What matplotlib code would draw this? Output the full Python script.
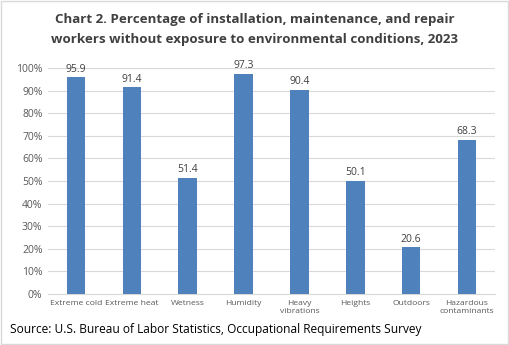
import numpy as np
import matplotlib
matplotlib.use("Agg")
import matplotlib.pyplot as plt
from matplotlib.patches import Rectangle

categories = ["Extreme cold", "Extreme heat", "Wetness", "Humidity", "Heavy\nvibrations",
              "Heights", "Outdoors", "Hazardous\ncontaminants"]
values = [95.9, 91.4, 51.4, 97.3, 90.4, 50.1, 20.6, 68.3]
yticks = [0, 10, 20, 30, 40, 50, 60, 70, 80, 90, 100]

plt.rcParams['font.family'] = ['Open Sans', 'DejaVu Sans']

W, H = 509, 345
fig = plt.figure(figsize=(W / 100, H / 100), dpi=100)
ax = fig.add_axes([48 / W, (H - 294) / H, (495 - 48) / W, (294 - 68) / H])

x = np.arange(len(categories))
bar_color = '#4F81BD'
ax.bar(x, values, width=0.33, color=bar_color, zorder=3)
for xi, v in zip(x, values):
    ax.text(xi, v + 1.2, f"{v:.1f}", ha='center', va='bottom', fontsize=7.5, color='#404040')

ax.set_ylim(0, 100)
ax.set_xlim(-0.5, len(categories) - 0.5)
ax.set_yticks(yticks)
ax.set_yticklabels([f"{t}%" for t in yticks], fontsize=7.5, color='#595959')
ax.set_xticks(x)
ax.set_xticklabels(categories, fontsize=6.1, color='#595959', linespacing=1.3)
ax.tick_params(axis='both', length=0, pad=4)
ax.yaxis.grid(True, color='#D9D9D9', linewidth=0.8, zorder=0)
for s in ['top', 'right', 'left']:
    ax.spines[s].set_visible(False)
ax.spines['bottom'].set_color('#D9D9D9')

fig.text(0.5, 1 - 20 / H, "Chart 2. Percentage of installation, maintenance, and repair",
         ha='center', va='center', fontsize=9.6, fontweight='bold', color='#404040')
fig.text(0.5, 1 - 40 / H, "workers without exposure to environmental conditions, 2023",
         ha='center', va='center', fontsize=9.6, fontweight='bold', color='#404040')
fig.text(10 / W, 1 - 329 / H, "Source: U.S. Bureau of Labor Statistics, Occupational Requirements Survey",
         ha='left', va='center', fontsize=8.6, color='black')

fig.patches.append(Rectangle((0.002, 0.003), 0.996, 0.994, transform=fig.transFigure,
                             fill=False, edgecolor='#D9D9D9', linewidth=1))

fig.savefig("out.png", dpi=100)
